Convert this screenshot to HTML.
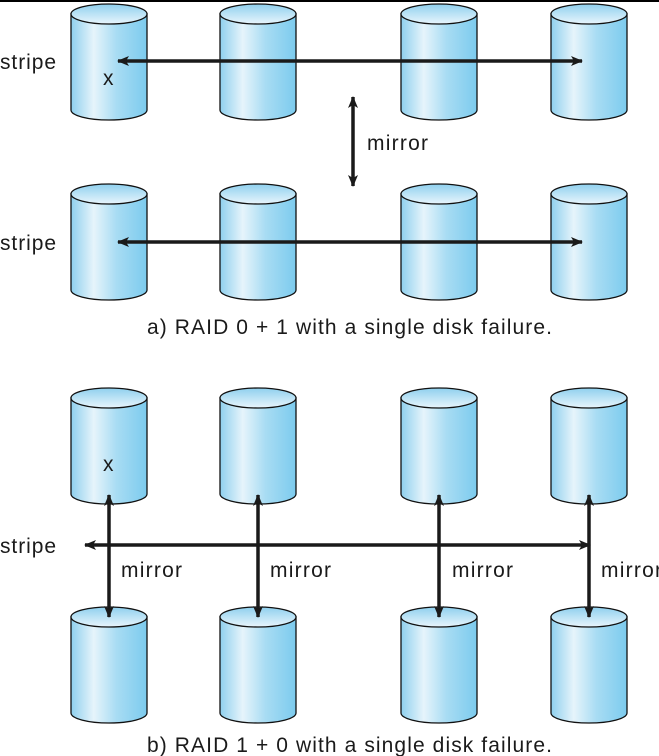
<!DOCTYPE html>
<html><head><style>body{margin:0;background:#fff}svg{display:block}</style></head><body>
<svg width="659" height="756" viewBox="0 0 659 756" xmlns="http://www.w3.org/2000/svg" font-family="Liberation Sans, sans-serif">
<defs>
<linearGradient id="g" x1="0" x2="1" y1="0" y2="0">
<stop offset="0" stop-color="#8fd0ee"/><stop offset="0.3" stop-color="#e6f4fb"/><stop offset="0.6" stop-color="#a8dcf3"/><stop offset="1" stop-color="#7ccbee"/></linearGradient>
<linearGradient id="t" x1="0" x2="0" y1="0" y2="1"><stop offset="0" stop-color="#8fd0ee"/><stop offset="1" stop-color="#e8f5fc"/></linearGradient>
<g id="c">
<path d="M-38,0 L-38,96 A38,10 0 0 0 38,96 L38,0 Z" fill="url(#g)" stroke="#111" stroke-width="1.3"/>
<ellipse cx="0" cy="0" rx="38" ry="10" fill="url(#t)" stroke="#111" stroke-width="1.3"/>
</g>
<marker id="a" markerWidth="12" markerHeight="10" refX="11" refY="5" orient="auto-start-reverse" markerUnits="userSpaceOnUse"><path d="M0,0 L12,5 L0,10 L3,5 Z" fill="#1a1a1a"/></marker>
</defs>
<rect x="0" y="0" width="659" height="2" fill="#000"/>
<g>
<use href="#c" x="109" y="14"/><use href="#c" x="258" y="14"/><use href="#c" x="439" y="14"/><use href="#c" x="589" y="14"/>
<use href="#c" x="109" y="194"/><use href="#c" x="258" y="194"/><use href="#c" x="439" y="194"/><use href="#c" x="589" y="194"/>
<use href="#c" x="109" y="398"/><use href="#c" x="258" y="398"/><use href="#c" x="439" y="398"/><use href="#c" x="589" y="398"/>
<use href="#c" x="109" y="617"/><use href="#c" x="258" y="617"/><use href="#c" x="439" y="617"/><use href="#c" x="589" y="617"/>
</g>
<g stroke="#1a1a1a" stroke-width="3.5" fill="none">
<line x1="118" y1="61" x2="582" y2="61" marker-start="url(#a)" marker-end="url(#a)"/>
<line x1="118" y1="242" x2="582" y2="242" marker-start="url(#a)" marker-end="url(#a)"/>
<line x1="353" y1="97" x2="353" y2="186" marker-start="url(#a)" marker-end="url(#a)"/>
<line x1="85" y1="545" x2="590" y2="545" marker-start="url(#a)" marker-end="url(#a)"/>
<line x1="109" y1="495" x2="109" y2="617" marker-start="url(#a)" marker-end="url(#a)"/>
<line x1="258" y1="495" x2="258" y2="617" marker-start="url(#a)" marker-end="url(#a)"/>
<line x1="439" y1="495" x2="439" y2="617" marker-start="url(#a)" marker-end="url(#a)"/>
<line x1="589" y1="495" x2="589" y2="617" marker-start="url(#a)" marker-end="url(#a)"/>
</g>
<g font-size="21" fill="#1a1a1a">
<text x="0" y="69" textLength="56">stripe</text>
<text x="0" y="250" textLength="56">stripe</text>
<text x="0" y="553" textLength="56">stripe</text>
<text x="103" y="85">x</text>
<text x="103" y="471">x</text>
<text x="367" y="150" textLength="61">mirror</text>
<text x="121" y="577" textLength="61">mirror</text>
<text x="270" y="577" textLength="61">mirror</text>
<text x="452" y="577" textLength="61">mirror</text>
<text x="601" y="577" textLength="61">mirror</text>
<text x="147" y="334" textLength="405">a) RAID 0 + 1 with a single disk failure.</text>
<text x="147" y="752" textLength="405">b) RAID 1 + 0 with a single disk failure.</text>
</g>
</svg>
</body></html>
